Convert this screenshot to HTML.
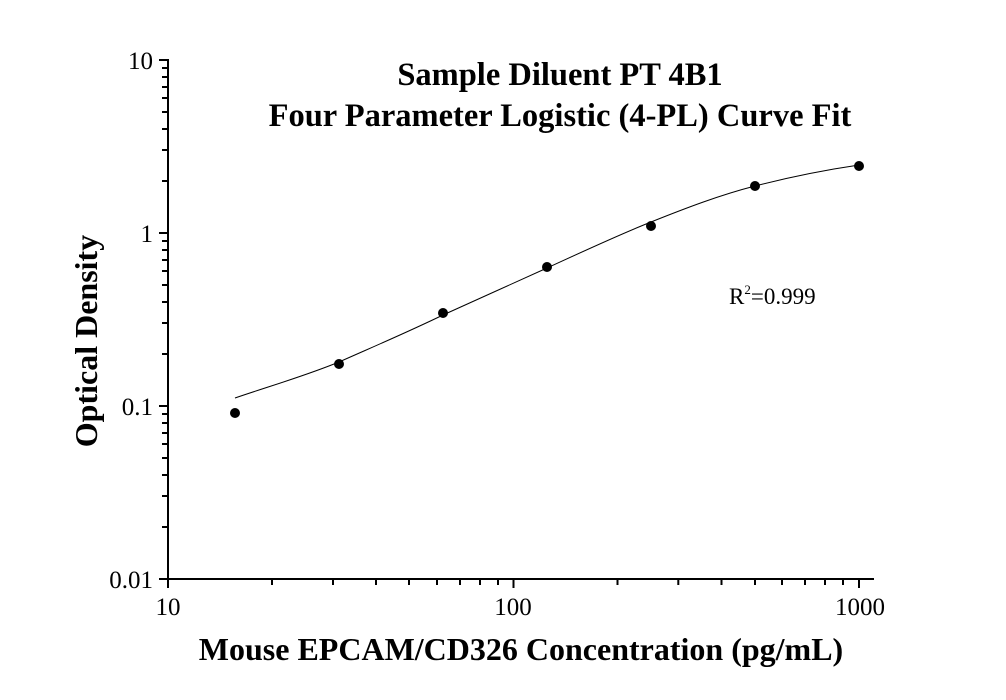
<!DOCTYPE html>
<html><head><style>body{margin:0;background:#fff}</style></head><body>
<svg width="1006" height="695" xmlns="http://www.w3.org/2000/svg" font-family="Liberation Serif, serif">
<rect width="1006" height="695" fill="#fff"/>
<g stroke="#000" stroke-width="2" fill="none">
<line x1="168" y1="59" x2="168" y2="580"/>
<line x1="167" y1="579" x2="874" y2="579"/>
<path d="M168,579v9M513.5,579v9M859,579v9M272,579v6M333,579v6M376,579v6M409,579v6M437,579v6M460,579v6M480,579v6M498,579v6M617.5,579v6M678.3,579v6M721.5,579v6M755,579v6M782,579v6M805,579v6M825,579v6M843,579v6"/>
<path d="M168,579h-9M168,406h-9M168,233h-9M168,60h-9M168,527h-6M168,496h-6M168,475h-6M168,458h-6M168,444h-6M168,433h-6M168,423h-6M168,414h-6M168,354h-6M168,323h-6M168,302h-6M168,285h-6M168,271h-6M168,260h-6M168,250h-6M168,241h-6M168,181h-6M168,150h-6M168,129h-6M168,112h-6M168,98h-6M168,87h-6M168,77h-6M168,68h-6"/>
</g>
<g font-size="25" fill="#000">
<text x="153" y="69" text-anchor="end">10</text>
<text x="153" y="242" text-anchor="end">1</text>
<text x="153" y="415" text-anchor="end">0.1</text>
<text x="153" y="588" text-anchor="end">0.01</text>
<text x="168" y="615" text-anchor="middle">10</text>
<text x="513" y="615" text-anchor="middle">100</text>
<text x="860" y="615" text-anchor="middle">1000</text>
<text x="729" y="304" font-size="23">R<tspan font-size="13" dy="-10">2</tspan><tspan dy="10">=0.999</tspan></text>
</g>
<g font-size="32.5" font-weight="bold" fill="#000" text-anchor="middle">
<text x="560" y="85">Sample Diluent PT 4B1</text>
<text x="560" y="126">Four Parameter Logistic (4-PL) Curve Fit</text>
<text x="521" y="660" font-size="32">Mouse EPCAM/CD326 Concentration (pg/mL)</text>
<text transform="translate(97,341) rotate(-90)" font-size="32">Optical Density</text>
</g>
<path d="M235,398 C270,386 305,376 339,362 C375,346 408,332 443,315 C478,299 512,284 547,268 C582,252 616,236 651,222 C686,208 720,195 755,186 C790,177 825,170 859,165" stroke="#000" stroke-width="1" fill="none"/>
<g fill="#000">
<circle cx="235" cy="413" r="5"/><circle cx="339" cy="364" r="5"/><circle cx="443" cy="313" r="5"/>
<circle cx="547" cy="267" r="5"/><circle cx="651" cy="226" r="5"/><circle cx="755" cy="186" r="5"/><circle cx="859" cy="166" r="5"/>
</g>
</svg>
</body></html>
